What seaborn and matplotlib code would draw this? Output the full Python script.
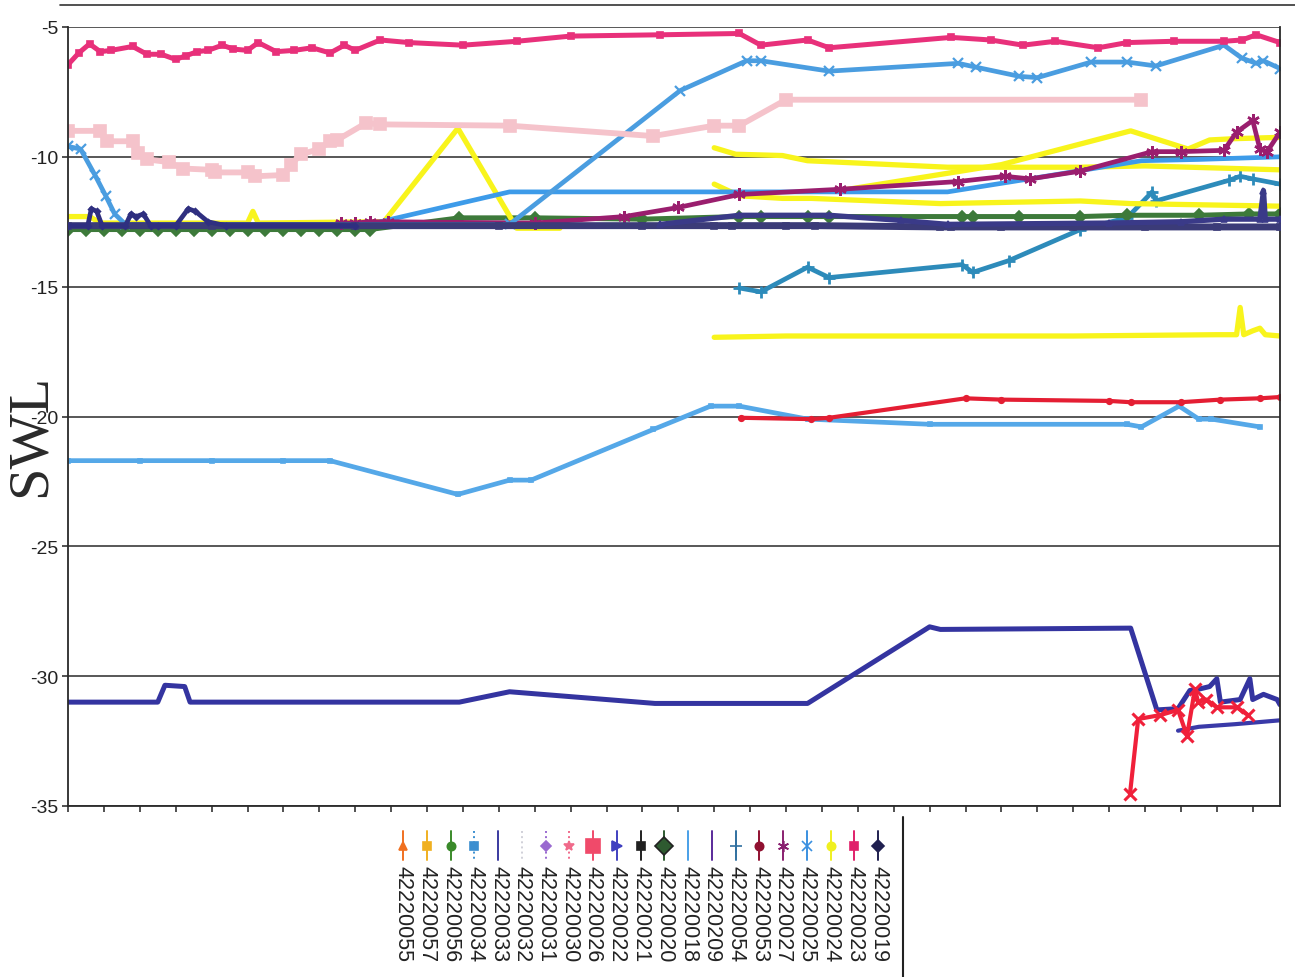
import matplotlib
matplotlib.use("Agg")
import matplotlib.pyplot as plt
from matplotlib.lines import Line2D
import seaborn as sns
import numpy as np

# ---------------- data (x in tick units, y = SWL) ----------------
s23_x = [0, 0.3, 0.6, 0.9, 1.2, 1.8, 2.2, 2.6, 3.0, 3.3, 3.6, 3.9, 4.3, 4.6, 5.0, 5.3, 5.8, 6.3,
         6.8, 7.3, 7.7, 8.0, 8.7, 9.5, 11.0, 12.5, 14.0, 16.5, 18.7, 19.3, 20.6, 21.2, 24.6, 25.7,
         26.6, 27.5, 28.7, 29.5, 30.8, 32.2, 32.7, 33.1, 33.76]
s23_y = [-6.45, -6.0, -5.65, -5.95, -5.9, -5.75, -6.05, -6.05, -6.25, -6.1, -5.95, -5.9, -5.7, -5.85,
         -5.9, -5.6, -5.95, -5.9, -5.8, -6.0, -5.7, -5.9, -5.5, -5.6, -5.7, -5.55, -5.35, -5.3, -5.25,
         -5.7, -5.5, -5.8, -5.4, -5.5, -5.7, -5.55, -5.8, -5.6, -5.55, -5.55, -5.5, -5.3, -5.6]

s26_x = [0, 0.9, 1.1, 1.8, 1.95, 2.2, 2.8, 3.2, 4.0, 4.1, 5.0, 5.2, 6.0, 6.2, 6.5, 7.0, 7.3, 7.5,
         8.3, 8.7, 12.3, 16.3, 18.0, 18.7, 20.0, 29.9]
s26_y = [-9.0, -9.0, -9.4, -9.4, -9.85, -10.1, -10.2, -10.45, -10.5, -10.6, -10.6, -10.75, -10.7,
         -10.3, -9.9, -9.7, -9.4, -9.35, -8.7, -8.75, -8.8, -9.2, -8.8, -8.8, -7.8, -7.8]

s25_x = [0, 0.35, 0.75, 1.05, 1.3, 1.6, 12.3, 17.05, 18.9, 19.3, 21.2, 24.8, 25.3, 26.5, 27.0,
         28.5, 29.5, 30.3, 32.2, 32.7, 33.1, 33.3, 33.76]
s25_y = [-9.6, -9.7, -10.7, -11.5, -12.2, -12.6, -12.6, -7.45, -6.3, -6.3, -6.7, -6.4, -6.55, -6.9,
         -6.95, -6.35, -6.35, -6.5, -5.7, -6.2, -6.4, -6.3, -6.6]

s34_x = [8.7, 12.3, 24.5, 27.0, 29.9, 31.5, 33.76]
s34_y = [-12.5, -11.35, -11.35, -10.8, -10.15, -10.1, -10.0]

s24a_x = [0, 0.6, 0.9, 5.0, 5.15, 5.3, 8.8, 10.86, 12.5, 13.7]
s24a_y = [-12.3, -12.3, -12.55, -12.55, -12.1, -12.55, -12.5, -8.9, -12.75, -12.75]
s24b_x = [18.0, 18.6, 19.9, 20.6, 24.5, 28.2, 30.0, 33.76]
s24b_y = [-9.65, -9.9, -9.95, -10.15, -10.4, -10.4, -10.35, -10.5]
s24c_x = [21.5, 26.0, 29.6, 31.2, 31.8, 32.5, 33.76]
s24c_y = [-11.3, -10.3, -9.0, -9.7, -9.35, -9.3, -9.25]
s24d_x = [18.0, 18.7, 19.9, 20.7, 24.3, 28.2, 29.6, 33.76]
s24d_y = [-11.05, -11.5, -11.6, -11.6, -11.8, -11.7, -11.8, -11.9]
s24e_x = [18.0, 20.0, 24.0, 28.0, 32.0, 32.55, 32.65, 32.75, 33.0, 33.2, 33.35, 33.76]
s24e_y = [-16.95, -16.9, -16.9, -16.9, -16.85, -16.85, -15.8, -16.85, -16.7, -16.6, -16.85, -16.9]

s20_x = [0, 0.5, 1.0, 1.5, 2.0, 2.5, 3.0, 3.5, 4.0, 4.5, 5.0, 5.5, 6.0, 6.5, 7.0, 7.5, 8.0, 8.4,
         10.9, 13.0, 16.0, 18.7, 19.3, 20.6, 21.2, 24.9, 25.2, 26.5, 28.2, 29.5, 31.5, 32.9, 33.76]
s20_y = [-12.8, -12.8, -12.8, -12.8, -12.8, -12.8, -12.8, -12.8, -12.8, -12.8, -12.8, -12.8, -12.8,
         -12.8, -12.8, -12.8, -12.8, -12.8, -12.35, -12.35, -12.4, -12.3, -12.3, -12.3, -12.3, -12.3,
         -12.3, -12.3, -12.3, -12.25, -12.25, -12.2, -12.2]

s21_x = [0, 4, 8, 12, 16, 18.0, 18.5, 20.0, 20.8, 24.3, 24.6, 26.0, 28.0, 30.0, 32.0, 33.76]
s21_y = [-12.65, -12.65, -12.65, -12.65, -12.65, -12.65, -12.65, -12.65, -12.65, -12.7, -12.7,
         -12.7, -12.7, -12.7, -12.7, -12.7]

s19_x = [0, 0.55, 0.65, 0.8, 0.95, 1.6, 1.75, 1.9, 2.1, 2.3, 2.5, 3.0, 3.35, 3.55, 3.9, 4.4, 8.0]
s19_y = [-12.65, -12.65, -12.0, -12.1, -12.65, -12.65, -12.2, -12.3, -12.2, -12.65, -12.65, -12.65,
         -12.0, -12.1, -12.5, -12.65, -12.65]

s209_x = [16.5, 18.7, 21.2, 23.2, 24.5, 29.0, 31.0, 32.2, 33.2, 33.3, 33.35, 33.76]
s209_y = [-12.6, -12.25, -12.25, -12.45, -12.6, -12.55, -12.5, -12.4, -12.4, -11.3, -12.4, -12.4]

s27_x = [7.6, 8.0, 8.4, 8.9, 13.0, 15.5, 17.0, 18.7, 21.5, 24.8, 26.1, 26.8, 28.2, 30.2, 31.0,
         32.2, 32.55, 33.0, 33.2, 33.4, 33.76]
s27_y = [-12.55, -12.55, -12.5, -12.5, -12.55, -12.3, -11.95, -11.45, -11.25, -10.95, -10.75,
         -10.85, -10.55, -9.8, -9.8, -9.75, -9.05, -8.6, -9.7, -9.8, -9.05]

s54_x = [18.7, 19.3, 20.6, 21.2, 24.9, 25.2, 26.2, 28.2, 29.5, 30.2, 30.3, 32.35, 32.65, 33.0, 33.76]
s54_y = [-15.05, -15.2, -14.25, -14.65, -14.15, -14.45, -14.0, -12.8, -12.35, -11.35, -11.7,
         -10.9, -10.75, -10.85, -11.05]

s18_x = [0, 2, 4, 6, 7.3, 10.86, 12.3, 12.9, 16.3, 17.9, 18.7, 20.6, 24.0, 29.5, 29.9, 30.95,
         31.5, 31.85, 33.2]
s18_y = [-21.7, -21.7, -21.7, -21.7, -21.7, -23.0, -22.45, -22.45, -20.5, -19.6, -19.6, -20.1,
         -20.3, -20.3, -20.4, -19.6, -20.1, -20.1, -20.4]

s53_x = [18.75, 20.7, 21.2, 25.0, 26.0, 29.0, 29.6, 31.0, 32.1, 33.2, 33.76]
s53_y = [-20.05, -20.1, -20.05, -19.3, -19.35, -19.4, -19.45, -19.45, -19.35, -19.3, -19.25]

s33_x = [0, 2.5, 2.7, 3.25, 3.4, 10.9, 12.3, 16.35, 20.6, 24.0, 24.3, 29.6, 30.33, 30.92, 31.25,
         31.5, 31.8, 32.0, 32.1, 32.65, 32.92, 33.0, 33.3, 33.68, 33.76]
s33_y = [-31.0, -31.0, -30.35, -30.4, -31.0, -31.0, -30.6, -31.05, -31.05, -28.1, -28.2, -28.15,
         -31.3, -31.25, -30.55, -30.5, -30.4, -30.1, -31.0, -30.9, -30.1, -30.9, -30.7, -30.9, -31.1]

s22_x = [30.92, 31.5, 32.5, 33.76]
s22_y = [-32.1, -31.95, -31.85, -31.7]

s30_x = [29.58, 29.81, 30.42, 30.92, 31.17, 31.39, 31.48, 31.7, 32.0, 32.56, 32.87]
s30_y = [-34.55, -31.65, -31.5, -31.3, -32.3, -30.5, -31.0, -30.9, -31.2, -31.2, -31.5]

# legend
legend_labels = ["42220055", "42220057", "42220056", "42220034", "42220033", "42220032", "42220031",
                 "42220030", "42220026", "42220022", "42220021", "42220020", "42220018", "42220209",
                 "42220054", "42220053", "42220027", "42220025", "42220024", "42220023", "42220019"]
legend_colors = ["#f07020", "#f0b020", "#3a8a2a", "#3c8fd0", "#3a3aa0", "#d0d0d8", "#9a6ad0",
                 "#f06a8a", "#f04a6a", "#4040c0", "#202020", "#2e5a30", "#4aa0e8", "#5a2a9a",
                 "#3070a0", "#901030", "#8a2070", "#3a90e0", "#f0f020", "#e0206a", "#202050"]
legend_markers = ["^", "s", "o", "s", "", "", "D", "*", "s", ">", "s", "D", "", "", "+", "o",
                  (6, 2, 0), "x", "o", "s", "D"]
legend_msize = [6, 6, 6, 6, 0, 0, 5, 7, 10, 7, 6, 9, 0, 0, 9, 6, 8, 7, 6, 6, 6]
legend_ls = ["-", "-", "-", ":", "-", ":", ":", ":", "-", "-", "-", "-", "-", "-", "-", "-", "-",
             "-", "-", "-", "-"]

yticks = [-35, -30, -25, -20, -15, -10, -5]
xticks = list(range(0, 34))

# ---------------- figure ----------------
sns.set_theme(style="white")
plt.rcParams["font.family"] = ["Liberation Sans", "DejaVu Sans"]

W, H = 1295, 978
fig = plt.figure(figsize=(W / 100, H / 100), dpi=100)
ax = fig.add_axes([68 / W, 1 - 807 / H, (1280 - 68) / W, (807 - 28) / H])

YEL = "#f8f41c"


def draw(x, y, color, lw=3.2, marker=None, ms=5, mew=1.2, z=2, alpha=1.0):
    sns.lineplot(x=x, y=y, ax=ax, color=color, lw=lw, marker=marker, markersize=ms,
                 markeredgecolor=color, markeredgewidth=mew, sort=False, legend=False,
                 estimator=None, zorder=z, alpha=alpha)


draw(s18_x, s18_y, "#55a8e8", lw=3.4, marker="s", ms=3)
draw(s53_x, s53_y, "#e41e33", lw=3.0, marker="o", ms=4)
draw(s33_x, s33_y, "#3434a0", lw=3.6)
draw(s22_x, s22_y, "#3a3aa8", lw=3.0)
draw(s30_x, s30_y, "#f0203a", lw=3.0, marker="x", ms=9, mew=2.2, z=3)

draw(s24e_x, s24e_y, YEL, lw=3.8)
draw(s54_x, s54_y, "#2d8bba", lw=3.4, marker="+", ms=9, mew=2)
draw(s20_x, s20_y, "#3d7a3a", lw=3.6, marker="D", ms=6)
draw(s21_x, s21_y, "#3b3b78", lw=5.0, marker="s", ms=5, z=3)
draw(s19_x, s19_y, "#2f2f80", lw=3.4, marker="D", ms=3, z=3)
draw(s209_x, s209_y, "#3a3a88", lw=3.8, marker="^", ms=4, z=3)
draw(s24a_x, s24a_y, YEL, lw=3.8, z=2)
draw(s24d_x, s24d_y, YEL, lw=3.8)
draw(s24b_x, s24b_y, YEL, lw=3.8)
draw(s24c_x, s24c_y, YEL, lw=3.8)
draw(s34_x, s34_y, "#3d9be9", lw=3.4)
draw(s27_x, s27_y, "#9a1e6e", lw=3.4, marker=(6, 2, 0), ms=9, mew=1.8)
draw(s25_x, s25_y, "#4a9de0", lw=3.4, marker="x", ms=7, mew=1.6)
draw(s26_x, s26_y, "#f5c3cb", lw=4.2, marker="s", ms=8)
draw(s23_x, s23_y, "#e8307a", lw=3.6, marker="s", ms=4)

ax.set_xlim(0, 33.76)
ax.set_ylim(-35, -5)
ax.set_yticks(yticks)
ax.set_yticklabels([str(v) for v in yticks], fontsize=14, color="#222222")
ax.set_xticks(xticks)
ax.set_xticklabels([])
ax.tick_params(axis="both", direction="out", length=4, width=1.2, colors="#333333",
               bottom=True, left=True, pad=3)
ax.tick_params(axis="y", labelcolor="#222222")
ax.grid(False)
for yv in yticks:
    ax.axhline(yv, color="#2a2a2a", lw=1.1, zorder=1)
for side in ["left", "bottom", "right"]:
    ax.spines[side].set_color("#2a2a2a")
    ax.spines[side].set_linewidth(1.3)
ax.spines["top"].set_visible(False)

ax.set_ylabel("SWL", fontsize=42, family=["Liberation Serif", "DejaVu Serif"], color="#2a2a2a")
ax.yaxis.set_label_coords(-0.0095, 0.4775)
ax.set_xlabel("")

# top border line of scanned page
fig.add_artist(Line2D([60 / W, 1.0], [1 - 5.5 / H, 1 - 5.5 / H], color="#333333", lw=1.2))

# ---------------- legend (rotated entries) ----------------
x0, dx = 403, 23.75
for i, lab in enumerate(legend_labels):
    xp = (x0 + i * dx) / W
    fig.add_artist(Line2D([xp, xp], [1 - 832 / H, 1 - 861 / H], color=legend_colors[i], lw=1.4,
                          ls=legend_ls[i]))
    if legend_markers[i] != "":
        fig.add_artist(Line2D([xp], [1 - 847 / H], color=legend_colors[i],
                              marker=legend_markers[i], markersize=legend_msize[i],
                              markeredgecolor="#222222" if lab in ("42220020",) else legend_colors[i],
                              ls="none", mew=1.2))
    fig.text(xp + 0.5 / W, 1 - 866 / H, lab, rotation=-90, ha="center", va="top",
             fontsize=15.5, color="#222222")
fig.add_artist(Line2D([903 / W, 903 / W], [1 - 818 / H, 0.0], color="#222222", lw=1.5))

fig.savefig("out.png", dpi=100)
